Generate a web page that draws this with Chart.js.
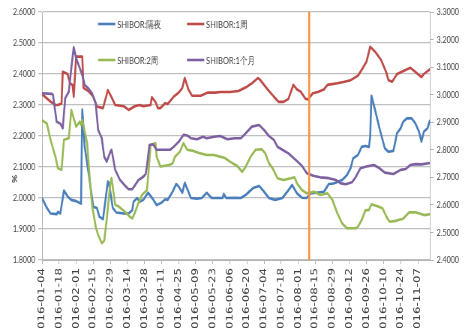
<!DOCTYPE html>
<html>
<head>
<meta charset="utf-8">
<script src="https://cdn.jsdelivr.net/npm/chart.js@4/dist/chart.umd.min.js"></script>
<style>
  html, body { margin: 0; padding: 0; background: #fff; overflow: hidden; }
  /* the chart is laid out wide and squeezed horizontally, like a condensed print layout */
  #wrap { width: 624px; height: 328px; transform: scaleX(0.75); transform-origin: 0 0; }
</style>
</head>
<body>
<div id="wrap"><canvas id="c" width="624" height="328"></canvas></div>
<script>
// ---- data ----
const seriesNames = ['SHIBOR:隔夜', 'SHIBOR:1周', 'SHIBOR:2周', 'SHIBOR:1个月'];
const startDate = '2016-01-04';
const endDate = '2016-11-17';
const markerDate = '2016-08-10';
const leftTicks = [1.8, 2.6, 0.1];   // min, max, step (%)
const rightTicks = [2.4, 3.3, 0.1];

const overnightDates = ['2016-01-04','2016-01-08','2016-01-11','2016-01-16','2016-01-17','2016-01-19','2016-01-22','2016-01-25','2016-01-28','2016-02-01','2016-02-04','2016-02-05','2016-02-06','2016-02-08','2016-02-12','2016-02-15','2016-02-18','2016-02-20','2016-02-23','2016-02-27','2016-02-28','2016-03-02','2016-03-05','2016-03-11','2016-03-15','2016-03-18','2016-03-19','2016-03-22','2016-03-24','2016-03-27','2016-03-31','2016-04-04','2016-04-07','2016-04-11','2016-04-14','2016-04-16','2016-04-20','2016-04-23','2016-04-25','2016-04-28','2016-04-30','2016-05-02','2016-05-05','2016-05-10','2016-05-14','2016-05-18','2016-05-22','2016-05-31','2016-06-01','2016-06-03','2016-06-10','2016-06-15','2016-06-19','2016-06-25','2016-06-30','2016-07-04','2016-07-08','2016-07-13','2016-07-19','2016-07-23','2016-07-27','2016-07-31','2016-08-04','2016-08-08','2016-08-11','2016-08-16','2016-08-22','2016-08-26','2016-08-30','2016-09-06','2016-09-10','2016-09-13','2016-09-15','2016-09-19','2016-09-22','2016-09-25','2016-09-28','2016-09-29','2016-09-30','2016-10-03','2016-10-07','2016-10-11','2016-10-14','2016-10-18','2016-10-21','2016-10-24','2016-10-26','2016-10-29','2016-11-02','2016-11-05','2016-11-08','2016-11-10','2016-11-12','2016-11-15','2016-11-17'];
const overnightValues = [2.000,1.968,1.950,1.948,1.955,1.950,2.024,2.005,1.994,1.990,1.984,1.982,2.285,2.165,2.058,1.972,1.968,1.940,1.932,2.053,2.045,1.968,1.953,1.950,1.950,1.961,1.988,2.000,1.988,1.994,2.017,1.996,1.977,1.985,1.996,1.994,2.020,2.045,2.037,2.017,2.049,2.030,2.000,1.998,2.000,2.017,2.000,2.000,2.013,2.000,2.001,2.000,2.010,2.032,2.039,2.020,2.000,1.994,2.000,2.020,2.042,2.015,2.001,2.000,2.015,2.017,2.020,2.045,2.047,2.058,2.074,2.097,2.128,2.139,2.165,2.168,2.165,2.198,2.330,2.284,2.219,2.160,2.149,2.152,2.209,2.225,2.246,2.257,2.257,2.241,2.214,2.182,2.214,2.225,2.252];

const weekDates = ['2016-01-04','2016-01-11','2016-01-15','2016-01-17','2016-01-20','2016-01-21','2016-01-25','2016-01-27','2016-01-29','2016-01-30','2016-02-01','2016-02-06','2016-02-07','2016-02-11','2016-02-15','2016-02-18','2016-02-23','2016-02-27','2016-03-01','2016-03-04','2016-03-11','2016-03-15','2016-03-20','2016-03-24','2016-03-27','2016-04-02','2016-04-03','2016-04-06','2016-04-08','2016-04-10','2016-04-14','2016-04-16','2016-04-21','2016-04-25','2016-04-28','2016-04-30','2016-05-03','2016-05-06','2016-05-13','2016-05-19','2016-05-25','2016-05-29','2016-06-06','2016-06-13','2016-06-20','2016-06-24','2016-06-29','2016-07-01','2016-07-07','2016-07-12','2016-07-16','2016-07-20','2016-07-24','2016-07-28','2016-07-31','2016-08-03','2016-08-07','2016-08-09','2016-08-13','2016-08-17','2016-08-22','2016-08-25','2016-09-02','2016-09-07','2016-09-13','2016-09-19','2016-09-23','2016-09-26','2016-09-29','2016-10-03','2016-10-08','2016-10-12','2016-10-14','2016-10-17','2016-10-21','2016-10-28','2016-11-01','2016-11-05','2016-11-10','2016-11-12','2016-11-17'];
const weekValues = [2.335,2.311,2.300,2.300,2.305,2.407,2.400,2.370,2.365,2.327,2.456,2.456,2.355,2.345,2.327,2.295,2.290,2.348,2.325,2.300,2.296,2.284,2.296,2.300,2.296,2.300,2.325,2.310,2.290,2.290,2.306,2.303,2.327,2.340,2.355,2.387,2.350,2.330,2.330,2.340,2.340,2.342,2.342,2.345,2.359,2.370,2.387,2.380,2.350,2.327,2.310,2.310,2.320,2.365,2.350,2.343,2.320,2.318,2.338,2.342,2.350,2.365,2.370,2.374,2.380,2.395,2.420,2.440,2.488,2.472,2.445,2.407,2.380,2.375,2.400,2.413,2.420,2.407,2.390,2.400,2.416];

const twoWeekDates = ['2016-01-04','2016-01-08','2016-01-11','2016-01-15','2016-01-17','2016-01-20','2016-01-22','2016-01-26','2016-01-28','2016-02-01','2016-02-04','2016-02-05','2016-02-06','2016-02-10','2016-02-12','2016-02-14','2016-02-17','2016-02-19','2016-02-22','2016-02-24','2016-02-26','2016-02-29','2016-03-01','2016-03-04','2016-03-07','2016-03-12','2016-03-16','2016-03-18','2016-03-20','2016-03-23','2016-03-26','2016-03-30','2016-03-31','2016-04-02','2016-04-06','2016-04-07','2016-04-10','2016-04-17','2016-04-20','2016-04-22','2016-04-26','2016-04-29','2016-05-02','2016-05-06','2016-05-11','2016-05-18','2016-05-24','2016-05-29','2016-06-02','2016-06-06','2016-06-12','2016-06-16','2016-06-19','2016-06-23','2016-06-27','2016-07-02','2016-07-05','2016-07-08','2016-07-11','2016-07-15','2016-07-20','2016-07-26','2016-07-29','2016-07-31','2016-08-04','2016-08-08','2016-08-14','2016-08-19','2016-08-25','2016-08-29','2016-09-02','2016-09-06','2016-09-10','2016-09-17','2016-09-19','2016-09-22','2016-09-25','2016-09-28','2016-09-30','2016-10-05','2016-10-09','2016-10-13','2016-10-15','2016-10-20','2016-10-22','2016-10-26','2016-10-31','2016-11-05','2016-11-09','2016-11-12','2016-11-17'];
const twoWeekValues = [2.908,2.895,2.836,2.775,2.733,2.727,2.836,2.842,2.944,2.884,2.902,2.890,2.908,2.824,2.702,2.600,2.521,2.491,2.461,2.470,2.545,2.678,2.697,2.600,2.594,2.575,2.557,2.551,2.570,2.606,2.636,2.654,2.702,2.817,2.824,2.775,2.739,2.745,2.750,2.775,2.793,2.824,2.800,2.797,2.789,2.781,2.781,2.775,2.770,2.757,2.741,2.720,2.739,2.775,2.800,2.802,2.787,2.751,2.733,2.697,2.690,2.697,2.700,2.678,2.654,2.642,2.648,2.636,2.642,2.618,2.570,2.533,2.515,2.515,2.521,2.545,2.580,2.582,2.602,2.595,2.588,2.551,2.539,2.542,2.545,2.550,2.573,2.573,2.568,2.563,2.566];

const monthDates = ['2016-01-04','2016-01-12','2016-01-13','2016-01-16','2016-01-19','2016-01-21','2016-01-23','2016-01-26','2016-01-28','2016-01-30','2016-02-01','2016-02-04','2016-02-06','2016-02-08','2016-02-11','2016-02-14','2016-02-17','2016-02-19','2016-02-22','2016-02-24','2016-02-26','2016-02-29','2016-03-01','2016-03-04','2016-03-08','2016-03-12','2016-03-15','2016-03-18','2016-03-20','2016-03-23','2016-03-27','2016-03-29','2016-03-30','2016-04-01','2016-04-04','2016-04-07','2016-04-11','2016-04-18','2016-04-21','2016-04-25','2016-04-29','2016-05-02','2016-05-05','2016-05-10','2016-05-15','2016-05-18','2016-05-24','2016-05-29','2016-06-04','2016-06-10','2016-06-15','2016-06-19','2016-06-24','2016-06-30','2016-07-04','2016-07-08','2016-07-12','2016-07-15','2016-07-19','2016-07-24','2016-07-30','2016-08-04','2016-08-08','2016-08-14','2016-08-19','2016-08-26','2016-09-01','2016-09-05','2016-09-09','2016-09-14','2016-09-17','2016-09-21','2016-09-26','2016-10-02','2016-10-06','2016-10-11','2016-10-18','2016-10-24','2016-10-28','2016-11-01','2016-11-05','2016-11-10','2016-11-17'];
const monthValues = [3.005,3.003,2.999,2.902,2.895,2.878,2.987,3.011,3.096,3.172,3.132,3.096,3.071,3.035,3.023,3.005,2.969,2.872,2.842,2.775,2.757,2.793,2.800,2.727,2.690,2.670,2.657,2.657,2.670,2.690,2.702,2.712,2.740,2.817,2.820,2.800,2.800,2.800,2.811,2.829,2.854,2.852,2.842,2.838,2.847,2.842,2.847,2.850,2.838,2.842,2.842,2.860,2.884,2.890,2.872,2.850,2.836,2.811,2.800,2.787,2.763,2.742,2.715,2.705,2.700,2.697,2.690,2.678,2.675,2.682,2.700,2.733,2.739,2.745,2.735,2.717,2.712,2.727,2.730,2.745,2.748,2.747,2.752];

const seriesColors = ['#4a7ebb', '#be4b48', '#98b954', '#7d60a0'];
const markerColor = '#f7913f';

// ---- helpers ----
const DAY = 86400000;
const t0 = Date.parse(startDate);
const dayOf = s => Math.round((Date.parse(s) - t0) / DAY);
const dateLabel = d => new Date(t0 + d * DAY).toISOString().slice(0, 10);
const toPoints = (dates, values) => dates.map((d, i) => ({ x: dayOf(d), y: values[i] }));

const textColor = '#404040';
const gridColor = '#c0c0c0';
const axisColor = '#b4b4b4';

const lineSet = (idx, dates, values, axis, order) => ({
  label: seriesNames[idx],
  data: toPoints(dates, values),
  borderColor: seriesColors[idx],
  backgroundColor: seriesColors[idx],
  borderWidth: 2.6,
  pointRadius: 0,
  tension: 0,
  borderJoinStyle: 'round',
  yAxisID: axis,
  order: order
});

// key drawn inside the plot area, two rows of two
const seriesKey = {
  id: 'seriesKey',
  afterDraw(chart) {
    const ctx = chart.ctx;
    const cols = [130.7, 249.3];
    const rows = [24, 60];
    ctx.save();
    ctx.font = '10px Lato';
    ctx.textBaseline = 'middle';
    ctx.textAlign = 'left';
    for (let i = 0; i < 4; i++) {
      const x = cols[i % 2], y = rows[Math.floor(i / 2)];
      ctx.strokeStyle = seriesColors[i];
      ctx.lineWidth = 2.6;
      ctx.beginPath();
      ctx.moveTo(x, y);
      ctx.lineTo(x + 23, y);
      ctx.stroke();
      ctx.fillStyle = textColor;
      ctx.fillText(seriesNames[i], x + 25.5, y + 0.5);
    }
    // unit title of the left axis
    ctx.translate(20, 179);
    ctx.rotate(-Math.PI / 2);
    ctx.textAlign = 'center';
    ctx.font = 'bold 10px Lato';
    ctx.fillText('%', 0, 0);
    ctx.restore();
  }
};

new Chart(document.getElementById('c'), {
  type: 'line',
  data: {
    datasets: [
      {
        label: 'marker',
        data: [{ x: dayOf(markerDate), y: leftTicks[0] }, { x: dayOf(markerDate), y: leftTicks[1] }],
        borderColor: markerColor,
        borderWidth: 2.6,
        pointRadius: 0,
        yAxisID: 'y',
        order: 0
      },
      lineSet(0, overnightDates, overnightValues, 'y', 4),
      lineSet(1, weekDates, weekValues, 'y', 3),
      lineSet(2, twoWeekDates, twoWeekValues, 'y1', 2),
      lineSet(3, monthDates, monthValues, 'y1', 1)
    ]
  },
  options: {
    responsive: false,
    animation: false,
    events: [],
    layout: { padding: { top: 12, left: 0, right: 0, bottom: 0 } },
    plugins: { legend: { display: false }, tooltip: { enabled: false } },
    scales: {
      x: {
        type: 'linear',
        min: 0,
        max: dayOf(endDate),
        afterFit: s => { s.height = 68; },
        ticks: {
          stepSize: 14,
          includeBounds: false,
          autoSkip: false,
          minRotation: 90,
          maxRotation: 90,
          padding: 4,
          color: textColor,
          font: { family: 'DejaVu Sans', size: 11.8 },
          callback: v => dateLabel(v)
        },
        grid: { drawOnChartArea: false, drawTicks: true, tickLength: 4, color: axisColor, lineWidth: 1 },
        border: { color: axisColor, width: 1 }
      },
      y: {
        position: 'left',
        min: leftTicks[0],
        max: leftTicks[1],
        afterFit: s => { s.width = 56; },
        ticks: {
          stepSize: leftTicks[2],
          padding: 4,
          color: textColor,
          font: { family: 'Lato', size: 9.5 },
          callback: v => v.toFixed(4)
        },
        grid: { color: gridColor, lineWidth: 1.3, tickLength: 5 },
        border: { color: axisColor, width: 1 }
      },
      y1: {
        position: 'right',
        min: rightTicks[0],
        max: rightTicks[1],
        afterFit: s => { s.width = 50.7; },
        ticks: {
          stepSize: rightTicks[2],
          padding: 4,
          color: textColor,
          font: { family: 'Lato', size: 9.5 },
          callback: v => v.toFixed(4)
        },
        grid: { drawOnChartArea: false, color: axisColor, tickLength: 5 },
        border: { color: axisColor, width: 1 }
      }
    }
  },
  plugins: [seriesKey]
});
</script>
</body>
</html>
